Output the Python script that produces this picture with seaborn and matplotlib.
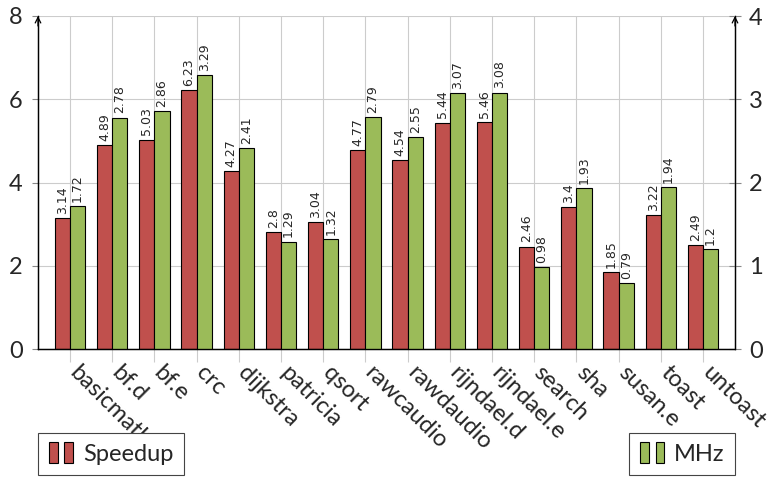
import matplotlib
matplotlib.use("Agg")
import matplotlib.pyplot as plt
import matplotlib.transforms as mtransforms
import seaborn as sns
import pandas as pd
from matplotlib.patches import Rectangle
from matplotlib.legend_handler import HandlerBase

benchmarks = ["basicmath", "bf.d", "bf.e", "crc", "dijkstra", "patricia", "qsort",
              "rawcaudio", "rawdaudio", "rijndael.d", "rijndael.e", "search", "sha",
              "susan.e", "toast", "untoast"]
speedup = [3.14, 4.89, 5.03, 6.23, 4.27, 2.8, 3.04, 4.77, 4.54, 5.44, 5.46, 2.46, 3.4, 1.85, 3.22, 2.49]
mhz = [1.72, 2.78, 2.86, 3.29, 2.41, 1.29, 1.32, 2.79, 2.55, 3.07, 3.08, 0.98, 1.93, 0.79, 1.94, 1.2]
left_ticks = [0, 2, 4, 6, 8]
right_ticks = [0, 1, 2, 3, 4]

RED = "#C0504D"
GREEN = "#9BBB59"

sns.set_style("white")
plt.rcParams["font.family"] = ["Lato", "DejaVu Sans"]
FS = 17

df = pd.DataFrame({
    "bench": benchmarks * 2,
    "series": ["Speedup"] * len(benchmarks) + ["MHz"] * len(benchmarks),
    "value": speedup + mhz,
})
order = ["Speedup", "MHz"]
pal = {"Speedup": RED, "MHz": GREEN}

fig = plt.figure(figsize=(7.73, 4.79), dpi=100)
ax = fig.add_axes([38 / 773, 1 - 349 / 479, (735 - 38) / 773, (349 - 16) / 479])
ax2 = ax.twinx()

sns.barplot(data=df[df.series == "Speedup"], x="bench", y="value", hue="series",
            hue_order=order, order=benchmarks, palette=pal, width=0.72, dodge=True,
            edgecolor="black", linewidth=0.8, errorbar=None, legend=False, ax=ax,
            saturation=1)
sns.barplot(data=df[df.series == "MHz"], x="bench", y="value", hue="series",
            hue_order=order, order=benchmarks, palette=pal, width=0.72, dodge=True,
            edgecolor="black", linewidth=0.8, errorbar=None, legend=False, ax=ax2,
            saturation=1)

for a in (ax, ax2):
    for c in a.containers:
        if len(c) > 0:
            a.bar_label(c, fmt="{:g}", rotation=90, padding=3, fontsize=9,
                        family="DejaVu Sans")

ax.set_ylim(0, 8)
ax2.set_ylim(0, 4)
ax.set_xlim(-0.76, len(benchmarks) - 1 + 0.76)
ax.set_yticks(left_ticks)
ax2.set_yticks(right_ticks)
ax.set_xlabel("")
ax.set_ylabel("")
ax2.set_ylabel("")

ax.grid(True, color="#cccccc", linewidth=0.8)
ax.set_axisbelow(True)
ax2.grid(False)

for s in ["top"]:
    ax.spines[s].set_visible(False)
    ax2.spines[s].set_visible(False)
for a in (ax, ax2):
    for s in ["left", "right", "bottom"]:
        a.spines[s].set_color("black")
        a.spines[s].set_linewidth(0.9)

ax.tick_params(axis="y", direction="out", length=4, width=0.8, color="#888888",
               labelsize=FS, pad=7, left=True)
ax2.tick_params(axis="y", direction="inout", length=8, width=0.8, color="#888888",
                labelsize=FS, pad=6, right=True)
ax.tick_params(axis="x", direction="out", length=9, width=0.8, color="#cccccc",
               labelsize=FS, pad=5.5, bottom=True)
shift = mtransforms.ScaledTranslation(3 / 100, 0, fig.dpi_scale_trans)
for lab in ax.get_xticklabels():
    lab.set_rotation(-45)
    lab.set_ha("left")
    lab.set_va("center")
    lab.set_rotation_mode("anchor")
    lab.set_transform(lab.get_transform() + shift)

# axis arrows
for xpos in (0, 1):
    ax.annotate("", xy=(xpos, 1.0), xytext=(xpos, 0.97), xycoords="axes fraction",
                arrowprops=dict(arrowstyle="->", color="black", lw=0.9,
                                shrinkA=0, shrinkB=0), annotation_clip=False)


class TwoBars(HandlerBase):
    def create_artists(self, legend, orig_handle, xdescent, ydescent, width, height,
                       fontsize, trans):
        w = width * 0.36
        h = height * 1.3
        y0 = -ydescent - (h - height) / 2
        r1 = Rectangle((-xdescent, y0), w, h, facecolor=orig_handle.get_facecolor(),
                       edgecolor="black", linewidth=0.8, transform=trans)
        r2 = Rectangle((-xdescent + width - w, y0), w, h,
                       facecolor=orig_handle.get_facecolor(), edgecolor="black",
                       linewidth=0.8, transform=trans)
        return [r1, r2]


def make_legend(label, color, loc, anchor):
    h = Rectangle((0, 0), 1, 1, facecolor=color)
    leg = fig.legend([h], [label], loc=loc, bbox_to_anchor=anchor,
                     bbox_transform=fig.transFigure, handler_map={Rectangle: TwoBars()},
                     fontsize=FS, frameon=True, fancybox=False, framealpha=1,
                     edgecolor="#444444", borderpad=0.45, borderaxespad=0,
                     handlelength=1.05, handleheight=0.7, handletextpad=0.4)
    leg.get_frame().set_linewidth(0.8)
    return leg


make_legend("Speedup", RED, "upper left", (38 / 773, 1 - 433 / 479))
make_legend("MHz", GREEN, "upper right", (735 / 773, 1 - 433 / 479))

fig.savefig("out.png", dpi=100)
